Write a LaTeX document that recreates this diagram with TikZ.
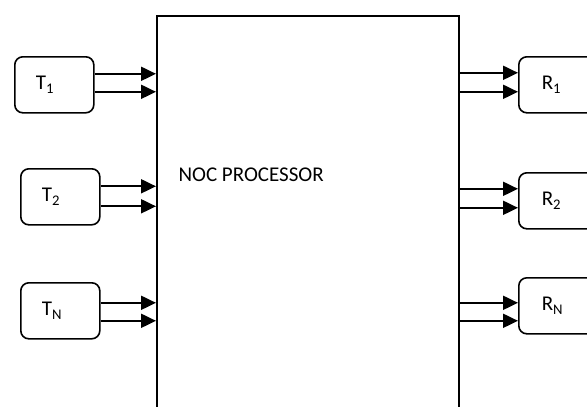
\documentclass[tikz,border=0pt]{standalone}
\usepackage{fontspec}
\setmainfont{Carlito}
\usepackage{xcolor}
\usepackage{tikz}
\usetikzlibrary{arrows.meta}

\begin{document}
\begin{tikzpicture}[x=1pt,y=-1pt,
    every node/.style={font=\fontsize{21}{25}\selectfont},
    blk/.style={draw, line width=1.6pt, rounded corners=8pt,
                minimum height=56pt, align=left, anchor=north west},
    lnk/.style={line width=2pt, -{Triangle[length=15pt,width=14pt]}}]
    \useasboundingbox (0,0) rectangle (587,407);
    \clip (0,0) rectangle (587,407);
    % processor block, runs off the bottom
    \node[draw, line width=2pt, minimum width=302pt, minimum height=420pt,
          anchor=north west] (proc) at (156,15) {};
    \node[anchor=west] (lbl) at (175,175) {NOC PROCESSOR};
    % transmitters
    \foreach \s/\x/\y/\u/\d [count=\i] in {1/14/56/11/-7,2/20/168/10.5/-9.5,N/20/282/8/-10}{
      \node[blk, inner xsep=21pt, text width=37pt] (t\i) at (\x,\y) {T\textsubscript{\s}};
      \draw[lnk] ([yshift=\u pt]t\i.east) -- ([yshift=\u pt]t\i.east -| proc.west);
      \draw[lnk] ([yshift=\d pt]t\i.east) -- ([yshift=\d pt]t\i.east -| proc.west);
    }
    % receivers
    \foreach \s/\y/\u/\d [count=\i] in {1/56/12/-7,2/172/12/-7,N/277/3/-15}{
      \node[blk, inner xsep=23pt, text width=42pt] (r\i) at (518,\y) {R\textsubscript{\s}};
      \draw[lnk] ([yshift=\u pt]r\i.west -| proc.east) -- ([yshift=\u pt]r\i.west);
      \draw[lnk] ([yshift=\d pt]r\i.west -| proc.east) -- ([yshift=\d pt]r\i.west);
    }
  \end{tikzpicture}
\end{document}
